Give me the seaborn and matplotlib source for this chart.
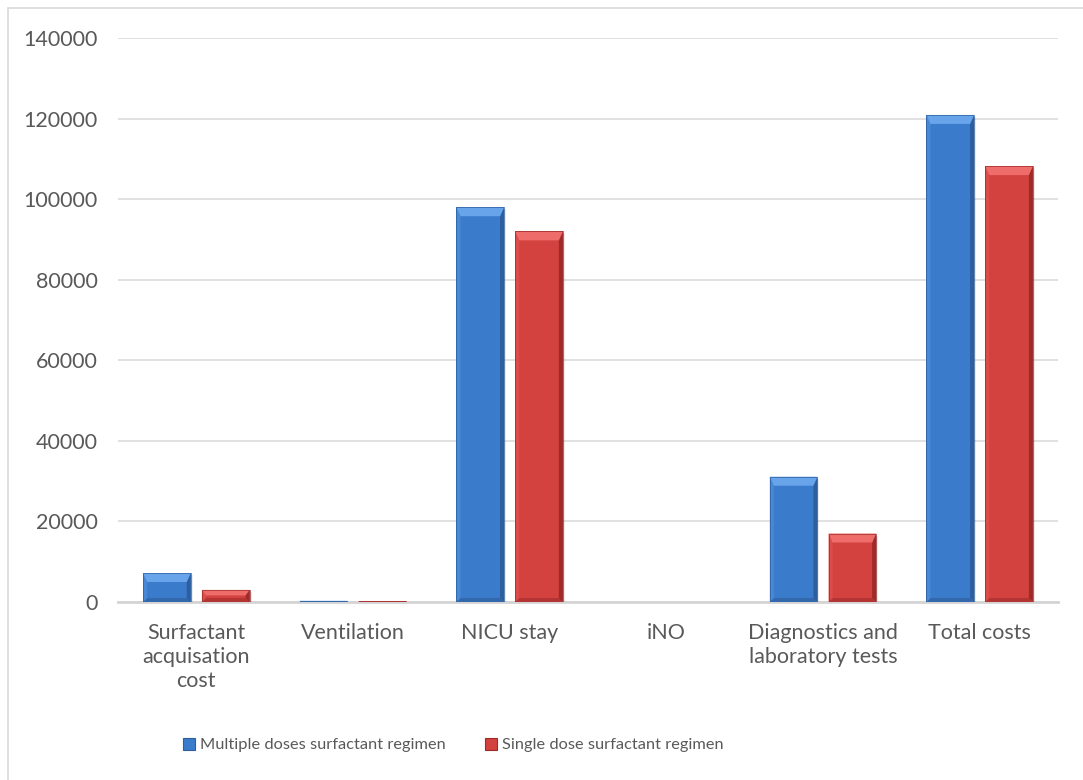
import numpy as np
import pandas as pd
import matplotlib
matplotlib.use("Agg")
import matplotlib.pyplot as plt
from matplotlib.patches import Polygon, Patch, Rectangle
import seaborn as sns

categories = [
    "Surfactant\nacquisation\ncost",
    "Ventilation",
    "NICU stay",
    "iNO",
    "Diagnostics and\nlaboratory tests",
    "Total costs",
]
series_names = ["Multiple doses surfactant regimen", "Single dose surfactant regimen"]
multiple_doses = [7200, 300, 98000, 0, 31100, 120900]
single_dose = [3000, 250, 92000, 0, 17000, 108200]
y_ticks = [0, 20000, 40000, 60000, 80000, 100000, 120000, 140000]

df = pd.DataFrame({
    "category": categories * 2,
    "regimen": [series_names[0]] * len(categories) + [series_names[1]] * len(categories),
    "cost": multiple_doses + single_dose,
})

# face / top bevel / left edge / right edge / bottom edge
shades = {
    series_names[0]: ("#3b7bcb", "#68a4ea", "#4888d6", "#2d5e9e", "#3468ad"),
    series_names[1]: ("#d3423f", "#ee6d6a", "#dc4d4a", "#9c2b2a", "#b33433"),
}
text_color = "#595959"

sns.set_theme(style="white")
plt.rcParams["font.family"] = ["Lato", "DejaVu Sans"]

fig = plt.figure(figsize=(10.83, 7.8), dpi=100)
ax = fig.add_axes([118 / 1083, 1 - 602 / 780, 940 / 1083, 564 / 780])

sns.barplot(
    data=df, x="category", y="cost", hue="regimen",
    palette={k: v[0] for k, v in shades.items()},
    width=0.75, gap=0.19, saturation=1, linewidth=0,
    legend=False, ax=ax, zorder=3,
)

ax.set_xlim(-0.5, len(categories) - 0.5)
ax.set_ylim(0, 140000)
ax.set_yticks(y_ticks)
ax.set_yticklabels([str(t) for t in y_ticks])
ax.set_xlabel("")
ax.set_ylabel("")
ax.tick_params(axis="y", length=0, pad=14.5, labelsize=15.5, labelcolor=text_color)
ax.tick_params(axis="x", length=0, pad=15, labelsize=15.5, labelcolor=text_color)
for lbl in ax.get_xticklabels():
    lbl.set_linespacing(1.25)
    lbl.set_verticalalignment("top")

ax.yaxis.grid(True, color="#d9d9d9", linewidth=1.1, zorder=0)
ax.xaxis.grid(False)
for side in ["top", "right", "left"]:
    ax.spines[side].set_visible(False)
ax.spines["bottom"].set_color("#d4d4d4")
ax.spines["bottom"].set_linewidth(2)
ax.spines["bottom"].set_zorder(2)

# pixel -> data conversion for the bevel edges
fig.canvas.draw()
bbox = ax.get_window_extent()
x_per_px = (ax.get_xlim()[1] - ax.get_xlim()[0]) / bbox.width
y_per_px = (ax.get_ylim()[1] - ax.get_ylim()[0]) / bbox.height

for container, name in zip(ax.containers, series_names):
    face, top, left, right, bottom = shades[name]
    for rect in container:
        x0, y0 = rect.get_x(), rect.get_y()
        w, h = rect.get_width(), rect.get_height()
        if h <= 0:
            continue
        x1, y1 = x0 + w, y0 + h
        h_px = h / y_per_px
        dv = min(9, h_px / 2.2) * y_per_px
        dvb = min(4, h_px / 2.2) * y_per_px
        dh = min(4, h_px / 2.2) * x_per_px
        # soft drop shadow
        ax.add_patch(Rectangle((x0 + 2 * x_per_px, y0), w, h - 2 * y_per_px,
                               facecolor="#000000", alpha=0.08, linewidth=0, zorder=2.5))
        ax.add_patch(Polygon([(x0, y0), (x1, y0), (x1 - dh, y0 + dvb), (x0 + dh, y0 + dvb)],
                             closed=True, facecolor=bottom, linewidth=0, zorder=4))
        ax.add_patch(Polygon([(x0, y0), (x0, y1), (x0 + dh, y1 - dv), (x0 + dh, y0 + dvb)],
                             closed=True, facecolor=left, linewidth=0, zorder=4))
        ax.add_patch(Polygon([(x1, y0), (x1, y1), (x1 - dh, y1 - dv), (x1 - dh, y0 + dvb)],
                             closed=True, facecolor=right, linewidth=0, zorder=4))
        ax.add_patch(Polygon([(x0, y1), (x1, y1), (x1 - dh, y1 - dv), (x0 + dh, y1 - dv)],
                             closed=True, facecolor=top, linewidth=0, zorder=4))
        ax.add_patch(Rectangle((x0, y0), w, h, facecolor="none",
                               edgecolor=right, linewidth=0.5, zorder=5))

handles = [Patch(facecolor=shades[n][0], edgecolor=shades[n][3], linewidth=0.8) for n in series_names]
fig.legend(
    handles, series_names, loc="center left", bbox_to_anchor=(168 / 1083, 1 - 745 / 780),
    ncol=2, frameon=False, fontsize=11.8, labelcolor=text_color,
    handlelength=0.75, handleheight=0.75, handletextpad=0.3, columnspacing=2.4,
)

# outer chart frame
fig.add_artist(Rectangle((8 / 1083, -0.05), 1.2, 1 - 8 / 780 + 0.05, transform=fig.transFigure,
                         facecolor="none", edgecolor="#d9d9d9", linewidth=1.2))

fig.savefig("out.png", dpi=100, facecolor="white")
